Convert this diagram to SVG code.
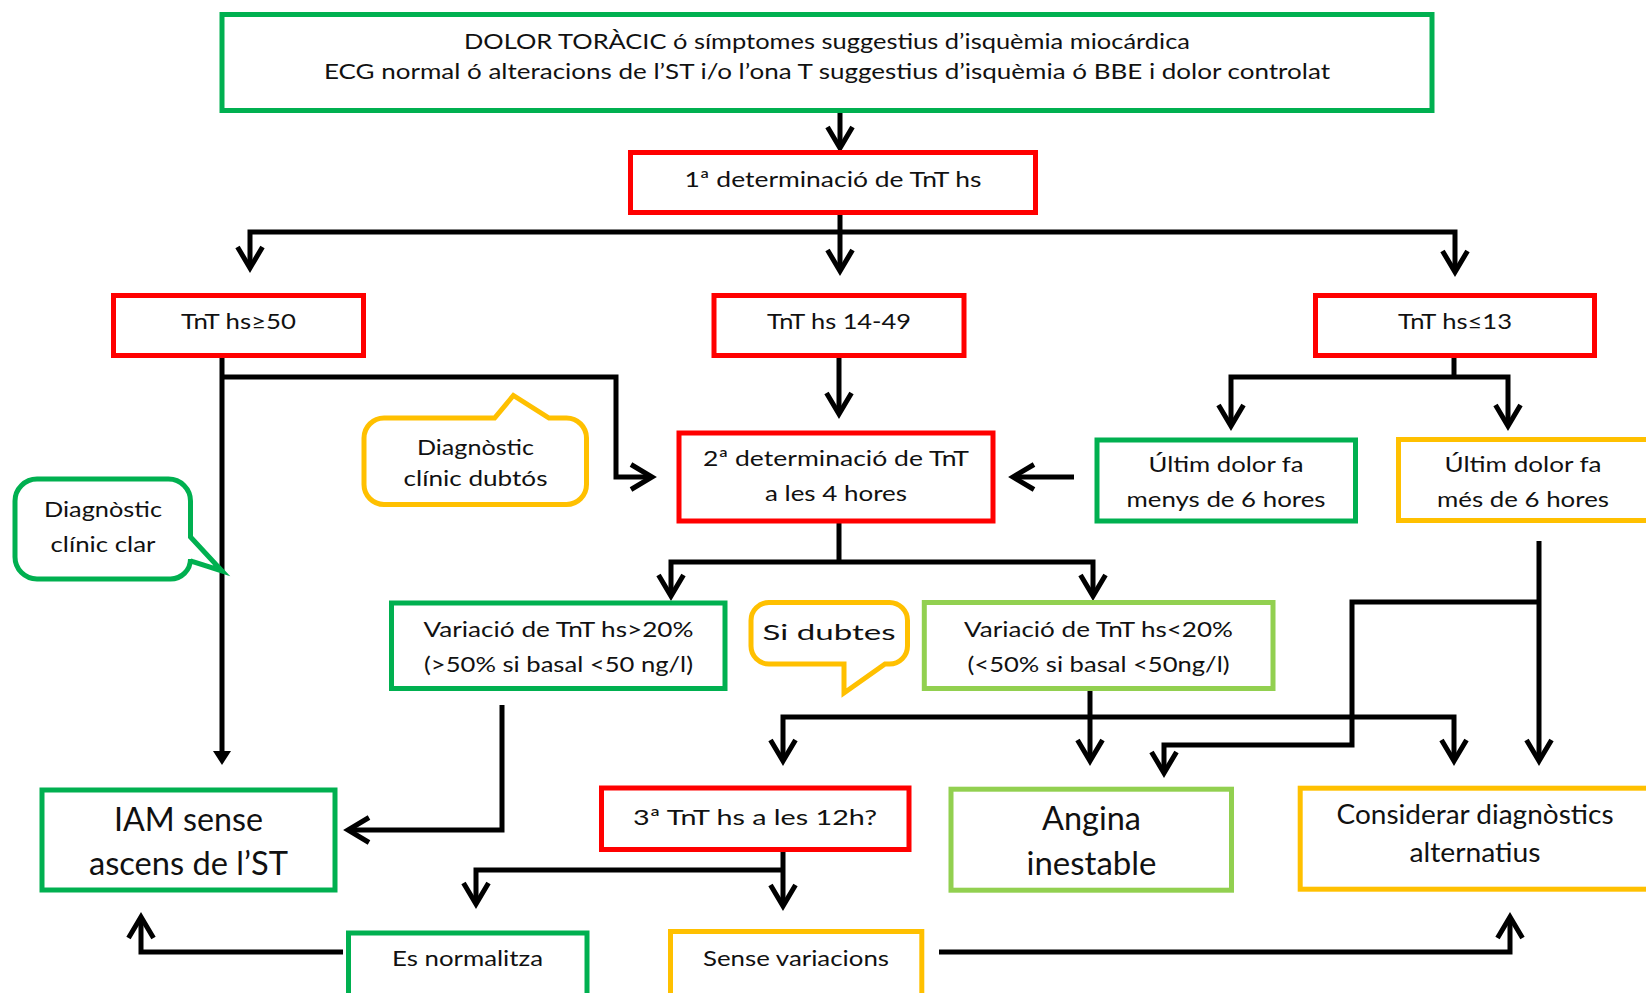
<svg xmlns="http://www.w3.org/2000/svg" width="1646" height="993" viewBox="0 0 1646 993">
  <style>
    .box { fill: #ffffff; stroke-width: 5; }
    .call { fill: #ffffff; stroke-width: 5; stroke-linejoin: miter; stroke-miterlimit: 10; }
    .g { stroke: #00B050; }
    .r { stroke: #FF0000; }
    .o { stroke: #FFC000; }
    .lg { stroke: #92D050; }
    text { font-family: Lato, "Liberation Sans", sans-serif; font-size: 22px; fill: #111111; text-anchor: middle; }
    .big { font-size: 32px; }
    .mid { font-size: 27px; }
    .top { font-size: 21.5px; }
    .wire { fill: none; stroke: #000000; stroke-width: 5; stroke-linejoin: miter; }
  </style>
  <defs>
    <marker id="chev" markerUnits="userSpaceOnUse" markerWidth="40" markerHeight="40" refX="0" refY="0" orient="auto" style="overflow:visible">
      <path d="M-21,-12.5 L0,0 L-21,12.5" fill="none" stroke="#000000" stroke-width="5"/>
    </marker>
    <marker id="tri" markerUnits="userSpaceOnUse" markerWidth="30" markerHeight="30" refX="0" refY="0" orient="auto" style="overflow:visible">
      <path d="M0,-9 L14,0 L0,9 Z" fill="#000000"/>
    </marker>
  </defs>

  <!-- connectors -->
  <g id="connectors" class="wire">
    <path d="M840,113 V148" marker-end="url(#chev)"/>
    <path d="M840,214 V232"/>
    <path d="M840,232 H250 V268" marker-end="url(#chev)"/>
    <path d="M840,232 H1455 V272" marker-end="url(#chev)"/>
    <path d="M840,232 V271" marker-end="url(#chev)"/>
    <path d="M839,357 V414" marker-end="url(#chev)"/>
    <path d="M222,355 V751" marker-end="url(#tri)"/>
    <path d="M222,377 H616 V477 H652" marker-end="url(#chev)"/>
    <path d="M1074,477 H1013" marker-end="url(#chev)"/>
    <path d="M1454,357 V377"/>
    <path d="M1454,377 H1231 V426" marker-end="url(#chev)"/>
    <path d="M1454,377 H1508 V426" marker-end="url(#chev)"/>
    <path d="M839,522 V562"/>
    <path d="M839,562 H671 V596" marker-end="url(#chev)"/>
    <path d="M839,562 H1093 V596" marker-end="url(#chev)"/>
    <path d="M502,705 V830 H348" marker-end="url(#chev)"/>
    <path d="M1090,690 V761" marker-end="url(#chev)"/>
    <path d="M1090,717 H783 V761" marker-end="url(#chev)"/>
    <path d="M1090,717 H1454 V761" marker-end="url(#chev)"/>
    <path d="M1539,541 V761" marker-end="url(#chev)"/>
    <path d="M1539,602 H1352 V745 H1164 V773" marker-end="url(#chev)"/>
    <path d="M783,851 V906" marker-end="url(#chev)"/>
    <path d="M783,870 H476 V904" marker-end="url(#chev)"/>
    <path d="M343,952 H141 V917" marker-end="url(#chev)"/>
    <path d="M939,952 H1510 V917" marker-end="url(#chev)"/>
  </g>

  <!-- nodes -->
  <g id="n-start">
    <rect class="box g" x="222" y="14.5" width="1210" height="96"/>
    <text class="top" x="827" y="48.5" textLength="726" lengthAdjust="spacingAndGlyphs">DOLOR TORÀCIC ó símptomes suggestius d’isquèmia miocárdica</text>
    <text class="top" x="827" y="78.5" textLength="1006" lengthAdjust="spacingAndGlyphs">ECG normal ó alteracions de l’ST i/o l’ona T suggestius d’isquèmia ó BBE i dolor controlat</text>
  </g>

  <g id="n-tnt1">
    <rect class="box r" x="630.5" y="152.5" width="405" height="60"/>
    <text x="833" y="187" textLength="297" lengthAdjust="spacingAndGlyphs">1ª determinació de TnT hs</text>
  </g>

  <g id="n-high">
    <rect class="box r" x="113.5" y="295.5" width="250" height="60"/>
    <text x="238.5" y="329" textLength="115" lengthAdjust="spacingAndGlyphs">TnT hs≥50</text>
  </g>

  <g id="n-mid">
    <rect class="box r" x="714" y="295.5" width="250" height="60"/>
    <text x="839" y="329" textLength="144" lengthAdjust="spacingAndGlyphs">TnT hs 14-49</text>
  </g>

  <g id="n-low">
    <rect class="box r" x="1315.5" y="295.5" width="279" height="60"/>
    <text x="1455" y="329" textLength="114" lengthAdjust="spacingAndGlyphs">TnT hs≤13</text>
  </g>

  <g id="n-tnt2">
    <rect class="box r" x="679" y="433" width="314" height="88"/>
    <text x="836" y="466" textLength="266" lengthAdjust="spacingAndGlyphs">2ª determinació de TnT</text>
    <text x="836" y="501" textLength="142" lengthAdjust="spacingAndGlyphs">a les 4 hores</text>
  </g>

  <g id="n-pain-lt6">
    <rect class="box g" x="1097" y="440" width="258.5" height="81"/>
    <text x="1226" y="472" textLength="155" lengthAdjust="spacingAndGlyphs">Últim dolor fa</text>
    <text x="1226" y="507" textLength="199" lengthAdjust="spacingAndGlyphs">menys de 6 hores</text>
  </g>

  <g id="n-pain-gt6">
    <rect class="box o" x="1398.5" y="439.5" width="270" height="81"/>
    <text x="1523" y="472" textLength="157" lengthAdjust="spacingAndGlyphs">Últim dolor fa</text>
    <text x="1523" y="507" textLength="172" lengthAdjust="spacingAndGlyphs">més de 6 hores</text>
  </g>

  <g id="n-doubt-note">
    <path class="call o" d="M384,418 H494.6 L513.4,395.5 L549,418 H566.5 A20,20 0 0 1 586.5,438 V484.5 A20,20 0 0 1 566.5,504.5 H384 A20,20 0 0 1 364,484.5 V438 A20,20 0 0 1 384,418 Z"/>
    <text x="475.5" y="455" textLength="117" lengthAdjust="spacingAndGlyphs">Diagnòstic</text>
    <text x="475.5" y="485.5" textLength="144" lengthAdjust="spacingAndGlyphs">clínic dubtós</text>
  </g>

  <g id="n-clear-note">
    <path class="call g" d="M37,479 H168.5 A22,22 0 0 1 190.5,501 V537 L222,571 L190.5,561 V559 A20,20 0 0 1 170.5,579 H37 A22,22 0 0 1 15,557 V501 A22,22 0 0 1 37,479 Z"/>
    <text x="103" y="516.5" textLength="118" lengthAdjust="spacingAndGlyphs">Diagnòstic</text>
    <text x="103" y="551.5" textLength="105" lengthAdjust="spacingAndGlyphs">clínic clar</text>
  </g>

  <g id="n-var-high">
    <rect class="box g" x="391.5" y="603" width="333.5" height="85.5"/>
    <text x="558.5" y="637" textLength="270" lengthAdjust="spacingAndGlyphs">Variació de TnT hs&gt;20%</text>
    <text x="558.5" y="671.5" textLength="269" lengthAdjust="spacingAndGlyphs">(&gt;50% si basal &lt;50 ng/l)</text>
  </g>

  <g id="n-ifdoubt-note">
    <path class="call o" d="M769,602.5 H889.5 A18,18 0 0 1 907.5,620.5 V646 A18,18 0 0 1 889.5,664 H885 L844,693 V664 H769 A18,18 0 0 1 751,646 V620.5 A18,18 0 0 1 769,602.5 Z"/>
    <text x="829" y="640" textLength="133" lengthAdjust="spacingAndGlyphs">Si dubtes</text>
  </g>

  <g id="n-var-low">
    <rect class="box lg" x="924.3" y="602.5" width="348.7" height="86"/>
    <text x="1098.5" y="637" textLength="269" lengthAdjust="spacingAndGlyphs">Variació de TnT hs&lt;20%</text>
    <text x="1098.5" y="671.5" textLength="262" lengthAdjust="spacingAndGlyphs">(&lt;50% si basal &lt;50ng/l)</text>
  </g>

  <g id="n-iam">
    <rect class="box g" x="42" y="790" width="293" height="100"/>
    <text class="big" x="188.5" y="830.5" textLength="149" lengthAdjust="spacingAndGlyphs">IAM sense</text>
    <text class="big" x="188.5" y="875" textLength="199" lengthAdjust="spacingAndGlyphs">ascens de l’ST</text>
  </g>

  <g id="n-tnt3">
    <rect class="box r" x="601.5" y="788" width="307.5" height="61.5"/>
    <text x="755" y="824.5" textLength="244" lengthAdjust="spacingAndGlyphs">3ª TnT hs a les 12h?</text>
  </g>

  <g id="n-angina">
    <rect class="box lg" x="951" y="789.2" width="280.5" height="101"/>
    <text class="big" x="1091.5" y="830" textLength="99" lengthAdjust="spacingAndGlyphs">Angina</text>
    <text class="big" x="1091.5" y="874.5" textLength="130" lengthAdjust="spacingAndGlyphs">inestable</text>
  </g>

  <g id="n-alt">
    <rect class="box o" x="1300.2" y="788.2" width="400" height="101"/>
    <text class="mid" x="1475" y="824" textLength="277" lengthAdjust="spacingAndGlyphs">Considerar diagnòstics</text>
    <text class="mid" x="1475" y="862" textLength="131" lengthAdjust="spacingAndGlyphs">alternatius</text>
  </g>

  <g id="n-normal">
    <rect class="box g" x="348.5" y="933" width="238.5" height="100"/>
    <text x="467.5" y="966" textLength="151" lengthAdjust="spacingAndGlyphs">Es normalitza</text>
  </g>

  <g id="n-novar">
    <rect class="box o" x="670.5" y="931.5" width="251.3" height="100"/>
    <text x="796" y="966" textLength="186" lengthAdjust="spacingAndGlyphs">Sense variacions</text>
  </g>
</svg>
